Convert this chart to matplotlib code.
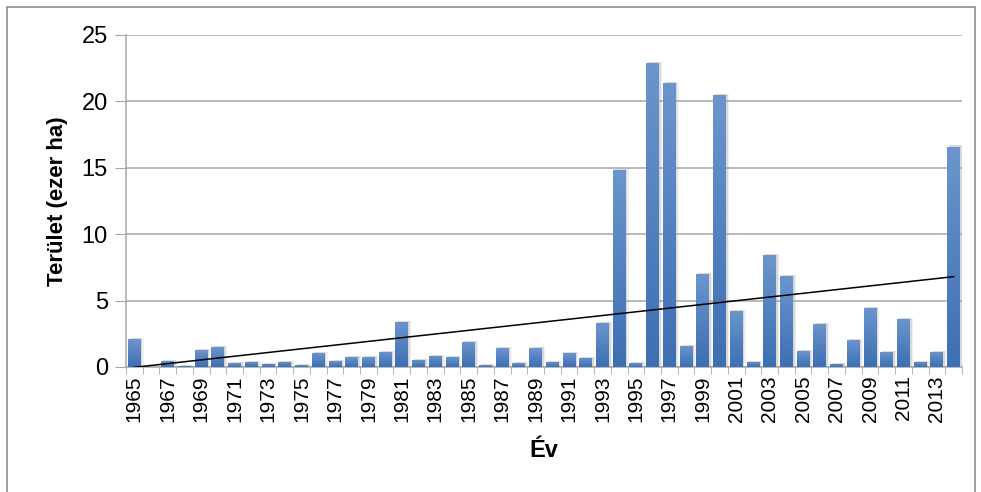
import numpy as np
import matplotlib
matplotlib.use("Agg")
import matplotlib.pyplot as plt
from matplotlib.patches import Rectangle

plt.rcParams['font.family'] = ['Liberation Sans Narrow', 'Liberation Sans', 'DejaVu Sans']

years = list(range(1965, 2015))
area = [2.1, 0.0, 0.45, 0.08, 1.28, 1.5, 0.3, 0.38, 0.23, 0.38,
        0.15, 1.05, 0.45, 0.75, 0.75, 1.13, 3.4, 0.53, 0.83, 0.75,
        1.9, 0.15, 1.43, 0.3, 1.43, 0.38, 1.05, 0.68, 3.3, 14.8,
        0.3, 22.9, 21.4, 1.58, 7.0, 20.5, 4.2, 0.38, 8.43, 6.85,
        1.2, 3.24, 0.23, 2.03, 4.44, 1.13, 3.6, 0.38, 1.13, 16.6]
yticks = [0, 5, 10, 15, 20, 25]

fig = plt.figure(figsize=(9.81, 4.92), dpi=100)
ax = fig.add_axes([0.1284, 0.2541, 0.8522, 0.6748])

# outer chart border
fig.patches.append(Rectangle((7 / 981, -0.02), 968 / 981, 1 - 7 / 492 + 0.02,
                             transform=fig.transFigure, fill=False,
                             edgecolor='#8c8c8c', linewidth=1.2))

x = np.arange(len(years))
bars = ax.bar(x, area, width=0.77, color='#4f81bd', zorder=3)

# gradient + soft shadow like the Excel style
grad = np.linspace(0, 1, 100).reshape(-1, 1)
cmap = matplotlib.colors.LinearSegmentedColormap.from_list('b', ['#3d6fb3', '#6b95cc'])
for b in bars:
    h = b.get_height()
    if h <= 0:
        continue
    x0 = b.get_x()
    w = b.get_width()
    for off, a in [(0.10, 0.30), (0.18, 0.15)]:
        ax.bar(x0 + w / 2 + off, h + 0.08, width=w, bottom=0, color='#a0a0a0',
               alpha=a, zorder=2, linewidth=0)
    im = ax.imshow(grad, extent=(x0, x0 + w, 0, h), origin='lower', cmap=cmap,
                   aspect='auto', zorder=3.5)
    im.set_clip_path(b)

# linear trend line
k, c = np.polyfit(x, area, 1)
ax.plot([x[0], x[-1]], [k * x[0] + c, k * x[-1] + c], color='black', lw=1.1, zorder=5)

ax.set_xlim(-0.5, len(years) - 0.5)
ax.set_ylim(0, 25)
ax.set_yticks(yticks)
ax.yaxis.grid(True, color='#a6a6a6', lw=1.1, zorder=0)
ax.set_axisbelow(True)

ax.set_xticks(x[::2])
ax.set_xticklabels([str(y) for y in years[::2]], rotation=90)
ax.set_xticks(np.arange(-0.5, len(years)), minor=True)
ax.tick_params(axis='x', which='major', length=0, pad=6, labelsize=15)
ax.tick_params(axis='x', which='minor', length=5, color='#a6a6a6', direction='out')
ax.tick_params(axis='y', length=8, color='#a6a6a6', labelsize=17, pad=5)

for s in ['top', 'right']:
    ax.spines[s].set_visible(False)
for s in ['left', 'bottom']:
    ax.spines[s].set_color('#a6a6a6')
    ax.spines[s].set_linewidth(1.1)

ax.set_ylabel('Terület (ezer ha)', fontsize=16, fontweight='bold', labelpad=10)
ax.set_xlabel('Év', fontsize=17, fontweight='bold', labelpad=12)

fig.savefig('out.png', dpi=100)
